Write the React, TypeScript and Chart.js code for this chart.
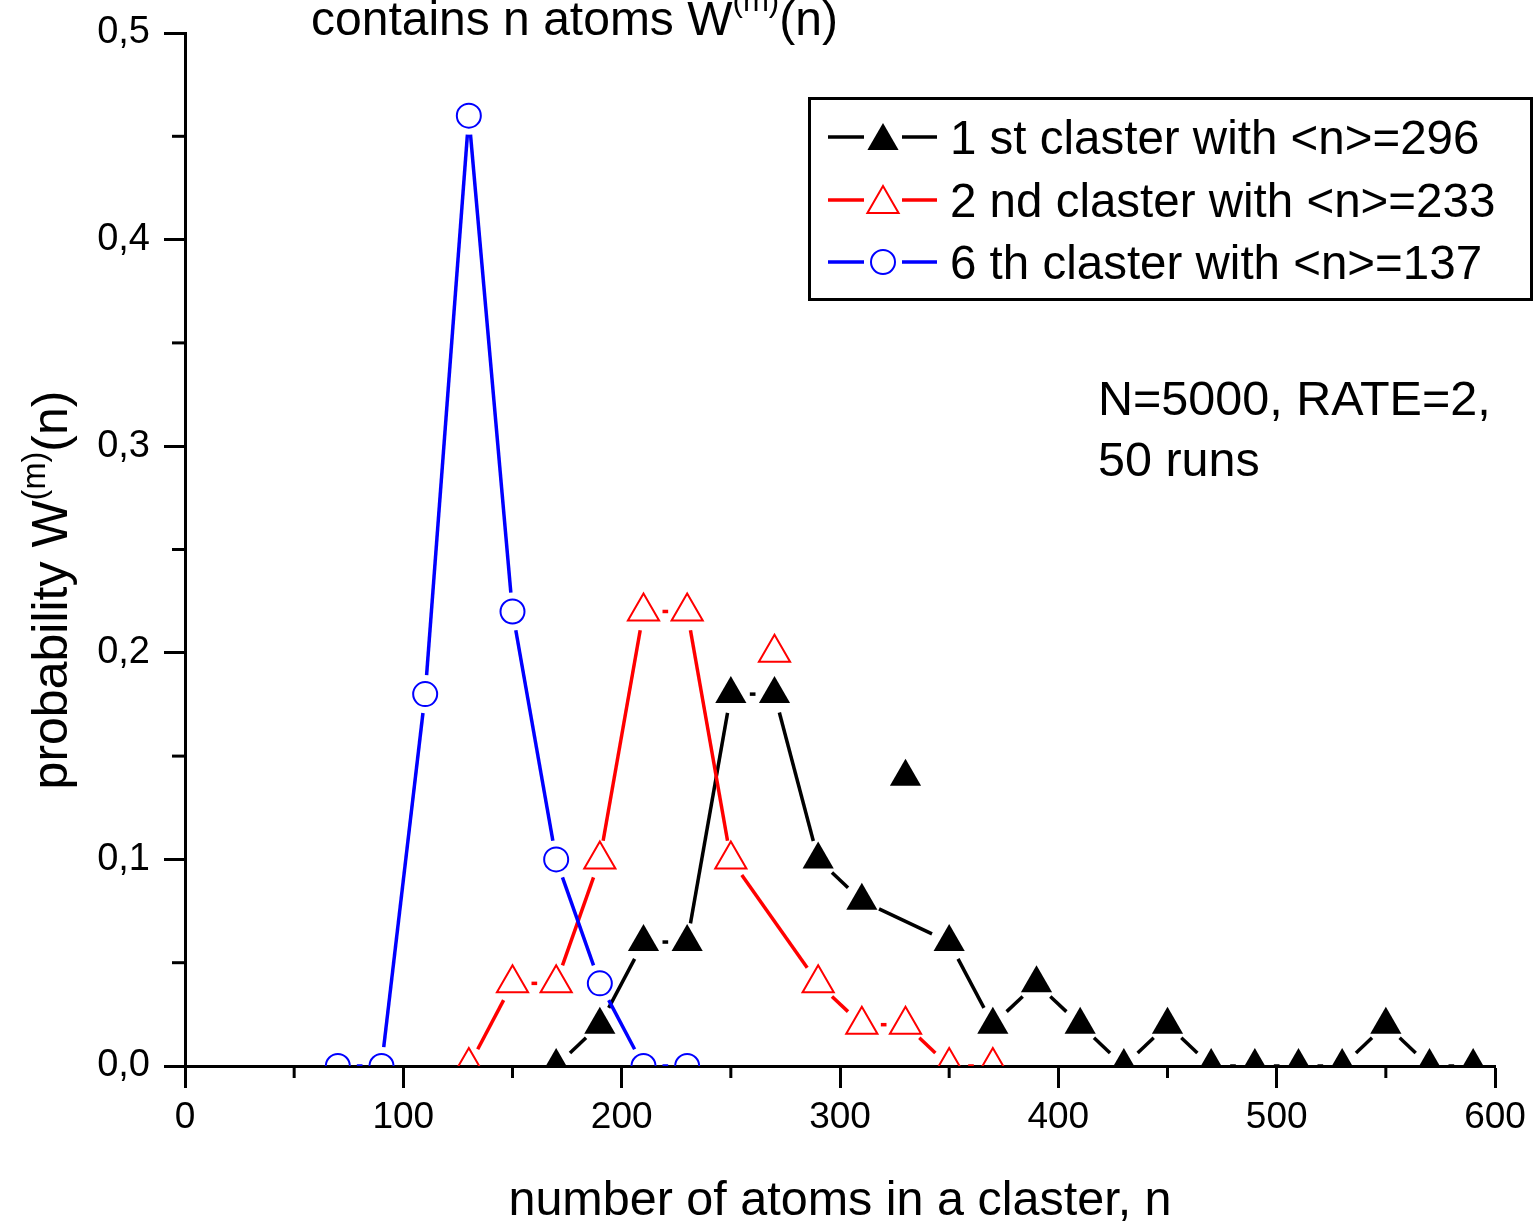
import React, { useEffect, useRef } from 'react';
import { Chart, registerables } from 'chart.js';

Chart.register(...registerables);

const FONT = '"Liberation Sans", Arial, Helvetica, sans-serif';

// ---- data ----
const clusterSizes1 = [170, 190, 210, 230, 250, 270, 290, 310, 330, 350, 370, 390, 410, 430, 450, 470, 490, 510, 530, 550, 570, 590];
const firstCluster = [0, 0.02, 0.06, 0.06, 0.18, 0.18, 0.1, 0.08, 0.14, 0.06, 0.02, 0.04, 0.02, 0, 0.02, 0, 0, 0, 0, 0.02, 0, 0];
const detached1 = [330];

const clusterSizes2 = [130, 150, 170, 190, 210, 230, 250, 270, 290, 310, 330, 350, 370];
const secondCluster = [0, 0.04, 0.04, 0.1, 0.22, 0.22, 0.1, 0.2, 0.04, 0.02, 0.02, 0, 0];
const detached2 = [270];

const clusterSizes6 = [70, 90, 110, 130, 150, 170, 190, 210, 230];
const sixthCluster = [0, 0, 0.18, 0.46, 0.22, 0.1, 0.04, 0, 0];
const detached6: number[] = [];

const seriesLabels = ['1 st claster with <n>=296', '2 nd claster with <n>=233', '6 th claster with <n>=137'];
const xMinorTicks = [50, 150, 250, 350, 450, 550];
const yMinorTicks = [0.05, 0.15, 0.25, 0.35, 0.45];
const noteLines = ['N=5000, RATE=2,', '50 runs'];

const toPoints = (xs: number[], ys: number[]) => xs.map((x, i) => ({ x, y: ys[i] }));

function drawMarker(ctx: CanvasRenderingContext2D, style: string, x: number, y: number, r: number, color: string, filled: boolean) {
  ctx.save();
  ctx.beginPath();
  if (style === 'triangle') {
    ctx.moveTo(x, y - r);
    ctx.lineTo(x + r * Math.sin(Math.PI * 2 / 3), y - r * Math.cos(Math.PI * 2 / 3));
    ctx.lineTo(x + r * Math.sin(Math.PI * 4 / 3), y - r * Math.cos(Math.PI * 4 / 3));
    ctx.closePath();
  } else {
    ctx.arc(x, y, r, 0, Math.PI * 2);
  }
  if (filled) {
    ctx.fillStyle = color;
    ctx.fill();
  } else {
    ctx.lineWidth = 2;
    ctx.strokeStyle = color;
    ctx.stroke();
  }
  ctx.restore();
}

type Part = { t: string; sup?: boolean };

function measureRich(ctx: CanvasRenderingContext2D, parts: Part[], size: number, supScale: number) {
  let w = 0;
  for (const p of parts) {
    ctx.font = `${p.sup ? size * supScale : size}px ${FONT}`;
    w += ctx.measureText(p.t).width;
  }
  return w;
}

function drawRich(ctx: CanvasRenderingContext2D, parts: Part[], x: number, y: number, size: number, supScale: number, supRise: number) {
  let cx = x;
  for (const p of parts) {
    ctx.font = `${p.sup ? size * supScale : size}px ${FONT}`;
    ctx.fillText(p.t, cx, p.sup ? y - size * supRise : y);
    cx += ctx.measureText(p.t).width;
  }
}

const gapLinePlugin = {
  id: 'gapLines',
  beforeDatasetsDraw(chart: any) {
    const ctx = chart.ctx as CanvasRenderingContext2D;
    const xs = chart.scales.x;
    const ys = chart.scales.y;
    const area = chart.chartArea;
    const gap = 19;
    ctx.save();
    ctx.beginPath();
    ctx.rect(area.left, area.top, area.right - area.left, area.bottom - area.top);
    ctx.clip();
    chart.data.datasets.forEach((ds: any) => {
      const pts = ds.data
        .filter((p: any) => !ds.detached.includes(p.x))
        .map((p: any) => ({ px: xs.getPixelForValue(p.x), py: ys.getPixelForValue(p.y) }));
      ctx.strokeStyle = ds.lineColor;
      ctx.lineWidth = 3.5;
      ctx.lineCap = 'butt';
      for (let i = 0; i < pts.length - 1; i++) {
        const a = pts[i];
        const b = pts[i + 1];
        const dx = b.px - a.px;
        const dy = b.py - a.py;
        const len = Math.hypot(dx, dy);
        if (len <= 2 * gap) continue;
        const ux = dx / len;
        const uy = dy / len;
        ctx.beginPath();
        ctx.moveTo(a.px + ux * gap, a.py + uy * gap);
        ctx.lineTo(b.px - ux * gap, b.py - uy * gap);
        ctx.stroke();
      }
    });
    ctx.restore();
  },
};

const decorPlugin = {
  id: 'decor',
  afterDraw(chart: any) {
    const ctx = chart.ctx as CanvasRenderingContext2D;
    const xs = chart.scales.x;
    const ys = chart.scales.y;
    const area = chart.chartArea;
    ctx.save();
    ctx.strokeStyle = '#000';
    ctx.lineWidth = 3;
    // minor ticks
    xMinorTicks.forEach((v) => {
      const px = xs.getPixelForValue(v);
      ctx.beginPath();
      ctx.moveTo(px, area.bottom);
      ctx.lineTo(px, area.bottom + 12);
      ctx.stroke();
    });
    yMinorTicks.forEach((v) => {
      const py = ys.getPixelForValue(v);
      ctx.beginPath();
      ctx.moveTo(area.left, py);
      ctx.lineTo(area.left - 13, py);
      ctx.stroke();
    });

    ctx.fillStyle = '#000';
    ctx.textBaseline = 'alphabetic';
    ctx.textAlign = 'left';

    // title (cut at top)
    drawRich(ctx, [{ t: 'contains n atoms W' }, { t: '(m)', sup: true }, { t: '(n)' }], 311, 35, 48, 0.65, 0.5);

    // x axis title
    ctx.save();
    ctx.font = `48.5px ${FONT}`;
    ctx.textAlign = 'center';
    ctx.fillText('number of atoms in a claster, n', (area.left + area.right) / 2, 1215);
    ctx.restore();

    // y axis title
    ctx.save();
    ctx.translate(67, 590);
    ctx.rotate(-Math.PI / 2);
    const yParts: Part[] = [{ t: 'probability W' }, { t: '(m)', sup: true }, { t: '(n)' }];
    const total = measureRich(ctx, yParts, 50, 0.65);
    drawRich(ctx, yParts, -total / 2, 0, 50, 0.65, 0.45);
    ctx.restore();

    // note
    ctx.font = `48.5px ${FONT}`;
    ctx.fillText(noteLines[0], 1098, 415);
    ctx.fillText(noteLines[1], 1098, 476);

    // legend
    ctx.lineWidth = 3;
    ctx.strokeStyle = '#000';
    ctx.fillStyle = '#fff';
    ctx.fillRect(808, 98, 725, 202);
    ctx.strokeRect(809.5, 98.5, 722, 201);
    const rowsY = [137, 200, 262];
    chart.data.datasets.forEach((ds: any, i: number) => {
      const y = rowsY[i];
      ctx.save();
      ctx.strokeStyle = ds.lineColor;
      ctx.lineWidth = 3.5;
      ctx.beginPath();
      ctx.moveTo(828, y);
      ctx.lineTo(864, y);
      ctx.moveTo(902, y);
      ctx.lineTo(937, y);
      ctx.stroke();
      ctx.restore();
      drawMarker(ctx, ds.pointStyle, 883, y + (ds.pointStyle === 'triangle' ? 4 : 0), ds.pointRadius, ds.lineColor, ds.filledMarker);
      ctx.fillStyle = '#000';
      ctx.font = `47.5px ${FONT}`;
      ctx.fillText(seriesLabels[i], 950, y + 17);
    });
    ctx.restore();
  },
};

export default function App() {
  const ref = useRef<HTMLCanvasElement | null>(null);
  useEffect(() => {
    if (!ref.current) return;
    const chart = new Chart(ref.current, {
      type: 'scatter',
      data: {
        datasets: [
          {
            label: seriesLabels[0],
            data: toPoints(clusterSizes1, firstCluster),
            pointStyle: 'triangle',
            pointRadius: 18,
            pointBackgroundColor: '#000',
            pointBorderColor: '#000',
            pointBorderWidth: 0,
            lineColor: '#000',
            filledMarker: true,
            detached: detached1,
            clip: 0,
          } as any,
          {
            label: seriesLabels[1],
            data: toPoints(clusterSizes2, secondCluster),
            pointStyle: 'triangle',
            pointRadius: 18,
            pointBackgroundColor: 'rgba(0,0,0,0)',
            pointBorderColor: '#ff0000',
            pointBorderWidth: 2,
            lineColor: '#ff0000',
            filledMarker: false,
            detached: detached2,
            clip: 0,
          } as any,
          {
            label: seriesLabels[2],
            data: toPoints(clusterSizes6, sixthCluster),
            pointStyle: 'circle',
            pointRadius: 12,
            pointBackgroundColor: 'rgba(0,0,0,0)',
            pointBorderColor: '#0000ff',
            pointBorderWidth: 2,
            lineColor: '#0000ff',
            filledMarker: false,
            detached: detached6,
            clip: 0,
          } as any,
        ],
      },
      options: {
        animation: false,
        responsive: false,
        events: [],
        layout: { padding: { top: 33, right: 40, left: 0, bottom: 0 } },
        plugins: {
          legend: { display: false },
          tooltip: { enabled: false },
          title: { display: false },
        },
        scales: {
          x: {
            type: 'linear',
            min: 0,
            max: 600,
            z: 1,
            afterFit: (s: any) => {
              s.height = 158;
              s.paddingLeft = 0;
              s.paddingRight = 0;
            },
            ticks: {
              stepSize: 100,
              color: '#000',
              padding: 8,
              font: { family: FONT, size: 37 },
            },
            grid: {
              display: true,
              drawOnChartArea: false,
              drawTicks: true,
              tickLength: 22,
              tickWidth: 3,
              tickColor: '#000',
            },
            border: { display: true, color: '#000', width: 3 },
          },
          y: {
            type: 'linear',
            min: 0,
            max: 0.5,
            z: 1,
            afterFit: (s: any) => {
              s.width = 185;
              s.paddingTop = 0;
              s.paddingBottom = 0;
            },
            ticks: {
              stepSize: 0.1,
              color: '#000',
              padding: 14,
              font: { family: FONT, size: 38 },
              callback: (v: any) => Number(v).toFixed(1).replace('.', ','),
            },
            grid: {
              display: true,
              drawOnChartArea: false,
              drawTicks: true,
              tickLength: 21,
              tickWidth: 3,
              tickColor: '#000',
            },
            border: { display: true, color: '#000', width: 3 },
          },
        },
      },
      plugins: [gapLinePlugin, decorPlugin],
    });
    return () => chart.destroy();
  }, []);
  return (
    <div style={{ position: 'absolute', left: 0, top: 0, width: 1535, height: 1224, background: '#fff' }}>
      <canvas ref={ref} width={1535} height={1224} style={{ display: 'block', width: 1535, height: 1224 }} />
    </div>
  );
}
